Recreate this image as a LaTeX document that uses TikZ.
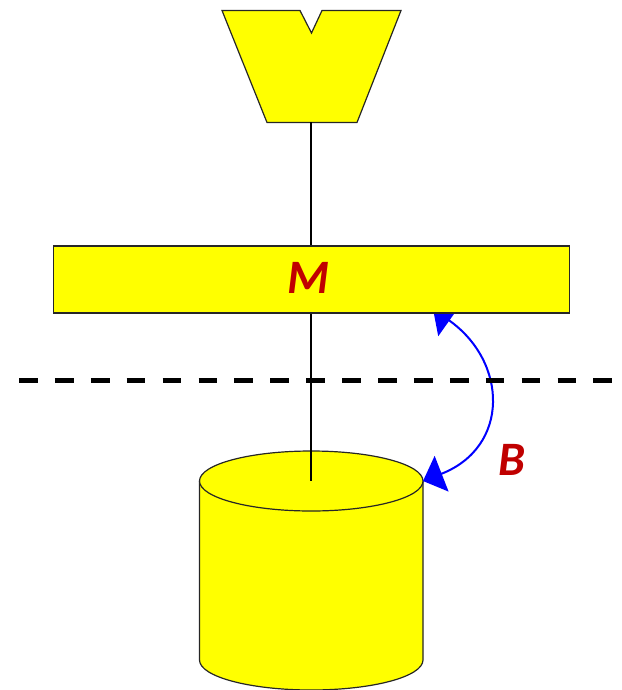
\documentclass[tikz,border=0pt]{standalone}
\usepackage{xcolor}
\usepackage{fontspec}
\setmainfont{Carlito}
\usepackage{tikz}
\usetikzlibrary{arrows.meta, positioning}
\definecolor{labelred}{HTML}{C00000}
\definecolor{partyellow}{RGB}{255,255,0}
\definecolor{arcblue}{RGB}{0,0,255}
\tikzset{
    part/.style={draw=black!85, fill=partyellow, line width=1.2pt},
    tag/.style={text=labelred, font=\fontsize{48}{48}\selectfont\bfseries\itshape, inner sep=0pt},
}

\begin{document}
\begin{tikzpicture}[x=1pt, y=-1pt]
    \useasboundingbox (0,0) rectangle (621,690);
    % cylinder
    \coordinate (cyltop) at (311,481);
    \coordinate (cylleft) at (199.5,481);
    \coordinate (cylright) at (423,481);
    \draw[part] (cylleft) -- (199.5,660) arc[start angle=180, end angle=360, x radius=111.75pt, y radius=30pt] -- (cylright) arc[start angle=0, end angle=180, x radius=111.75pt, y radius=30pt] -- cycle;
    \draw[part] (cylleft) arc[start angle=180, end angle=360, x radius=111.75pt, y radius=30pt];
    % head
    \draw[part] (222,10.5) -- (300,10.5) -- (311.5,33) -- (322,10.5) -- (401,10.5) -- (357,122.5) -- (267,122.5) -- cycle;
    \coordinate (headbase) at (311,122.5);
    \draw[line width=1.2pt] (headbase) -- (cyltop);
    % angle arrow
    \coordinate (barhit) at (433,309);
    \draw[arcblue, line width=2pt, {Triangle[length=20pt, width=38pt]}-{Triangle[length=20pt, width=38pt]}] (barhit) .. controls (508,362) and (510,447) .. (cylright);
    % mirror
    \node[part, minimum width=516pt, minimum height=67pt, inner sep=0pt] (mirror) at (311.5,279.5) {};
    \node[tag] (mlabel) at (308,278) {M};
    \node[tag] (blabel) at (512,460) {B};
    % plane
    \coordinate (planel) at (19,380);
    \coordinate (planer) at (612,380);
    \draw[line width=5pt, dash pattern=on 18.7pt off 17.2pt] (planel) -- (planer);
\end{tikzpicture}
\end{document}
